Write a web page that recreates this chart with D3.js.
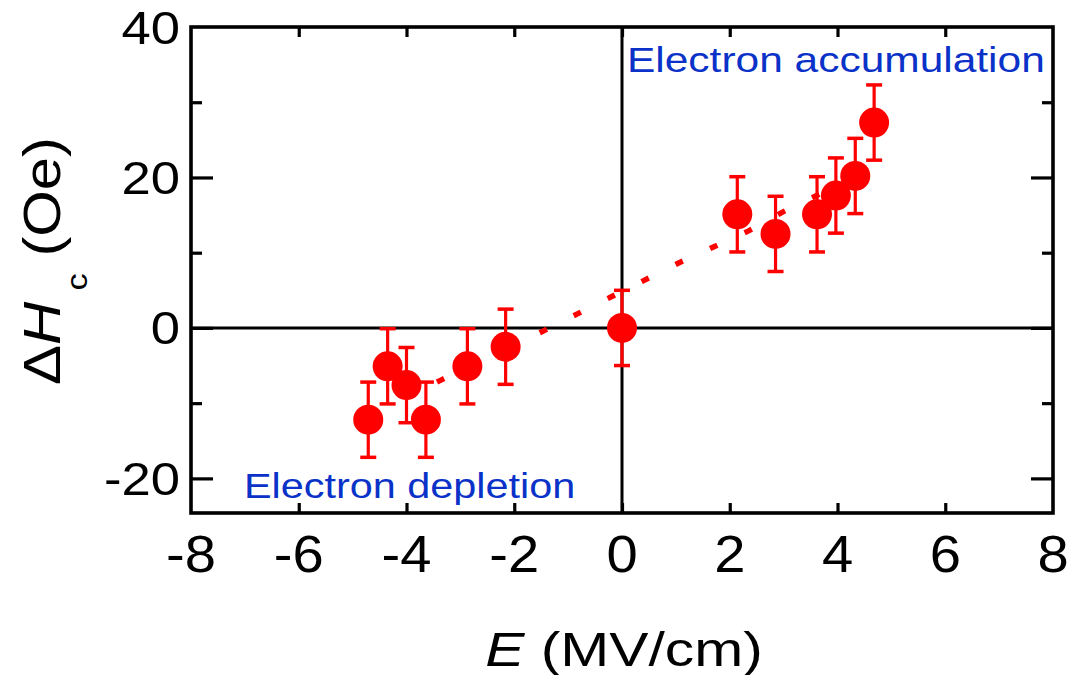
<!DOCTYPE html>
<html>
<head>
<meta charset="utf-8">
<script src="https://cdn.jsdelivr.net/npm/d3@7/dist/d3.min.js"></script>
<style>
  html, body { margin: 0; padding: 0; background: #fff; }
  svg { display: block; }
  text { font-family: "Liberation Sans", Arial, Helvetica, sans-serif; }
</style>
</head>
<body>
<svg id="chart" width="1073" height="675"></svg>
<script>
// ---- data ----
const fieldE = [-4.71, -4.35, -4.00, -3.64, -2.87, -2.16, 0.00, 2.14, 2.85, 3.62, 3.97, 4.33, 4.68];
const deltaHc = [-12.2, -5.1, -7.6, -12.2, -5.1, -2.5, 0.0, 15.1, 12.5, 15.1, 17.6, 20.2, 27.3];
const errHc = [5, 5, 5, 5, 5, 5, 5, 5, 5, 5, 5, 5, 5];
const fitE = [-4.0, -3.38, -1.46, -0.18, 1.07, 2.35, 2.98, 3.7];
const fitH = [-9.2, -7.0, -0.4, 4.2, 8.7, 12.9, 15.4, 17.9];
const xTicks = [-8, -6, -4, -2, 0, 2, 4, 6, 8];
const yMajorTicks = [-20, 0, 20, 40];
const yMinorTicks = [-10, 10, 30];
const annotations = ["Electron accumulation", "Electron depletion"];

// ---- layout ----
const svg = d3.select("#chart");
const L = 191, R = 1053, T = 27, B = 513;
const x = d3.scaleLinear().domain([-8, 8]).range([L, R]);
const y = d3.scaleLinear().domain([-24.6, 40]).range([B, T]);
const red = "#ff0000", blue = "#0a32c8";

function stretchedText(g, px, py, sx, rot) {
  return g.append("g")
    .attr("transform", `translate(${px},${py})` + (rot ? ` rotate(${rot})` : "") + ` scale(${sx},1)`)
    .append("text");
}

// zero lines
svg.append("line").attr("x1", L).attr("x2", R).attr("y1", y(0)).attr("y2", y(0))
  .attr("stroke", "#000").attr("stroke-width", 3);
svg.append("line").attr("x1", x(0)).attr("x2", x(0)).attr("y1", T).attr("y2", B)
  .attr("stroke", "#000").attr("stroke-width", 3);

// axes (ticks inside) using d3 axis generators
const axStyle = g => {
  g.select(".domain").remove();
  g.selectAll(".tick line").attr("stroke", "#000").attr("stroke-width", 3.2);
  g.selectAll(".tick text").remove();
};
svg.append("g").attr("transform", `translate(0,${B})`)
  .call(d3.axisBottom(x).tickValues(xTicks.slice(1, -1)).tickSize(-10)).call(axStyle);
svg.append("g").attr("transform", `translate(0,${T})`)
  .call(d3.axisTop(x).tickValues(xTicks.slice(1, -1)).tickSize(-10)).call(axStyle);
svg.append("g").attr("transform", `translate(${L},0)`)
  .call(d3.axisLeft(y).tickValues(yMajorTicks.slice(0, -1)).tickSize(-22)).call(axStyle);
svg.append("g").attr("transform", `translate(${L},0)`)
  .call(d3.axisLeft(y).tickValues(yMinorTicks).tickSize(-11)).call(axStyle);
svg.append("g").attr("transform", `translate(${R},0)`)
  .call(d3.axisRight(y).tickValues(yMajorTicks.slice(0, -1)).tickSize(-22)).call(axStyle);
svg.append("g").attr("transform", `translate(${R},0)`)
  .call(d3.axisRight(y).tickValues(yMinorTicks).tickSize(-11)).call(axStyle);

// frame
svg.append("rect").attr("x", L).attr("y", T).attr("width", R - L).attr("height", B - T)
  .attr("fill", "none").attr("stroke", "#000").attr("stroke-width", 3.6);

// tick labels
xTicks.forEach(v => {
  stretchedText(svg, x(v), 572, 1.08).attr("text-anchor", "middle")
    .attr("font-size", 52).attr("fill", "#000").text(d3.format("d")(v).replace("−", "-"));
});
yMajorTicks.forEach(v => {
  stretchedText(svg, 180, y(v) + 16.5, 1.12).attr("text-anchor", "end")
    .attr("font-size", 47).attr("fill", "#000").text(d3.format("d")(v).replace("−", "-"));
});

// axis titles
const xt = stretchedText(svg, 624, 666, 1.2).attr("text-anchor", "middle")
  .attr("font-size", 49).attr("fill", "#000");
xt.append("tspan").attr("font-style", "italic").text("E");
xt.append("tspan").text(" (MV/cm)");

const yt = stretchedText(svg, 60, 261, 1.15, -90).attr("text-anchor", "middle")
  .attr("font-size", 52).attr("fill", "#000");
yt.append("tspan").text("Δ");
yt.append("tspan").attr("font-style", "italic").text("H");
yt.append("tspan").attr("font-size", 30).attr("dx", 10).attr("dy", 27).text("c");
yt.append("tspan").attr("dy", -27).text(" (Oe)");

// annotations
stretchedText(svg, 627, 72, 1.18).attr("font-size", 36).attr("fill", blue).text(annotations[0]);
stretchedText(svg, 244, 498, 1.15).attr("font-size", 36).attr("fill", blue).text(annotations[1]);

// dotted fit line
const fitData = fitE.map((e, i) => [e, fitH[i]]);
svg.append("path").datum(fitData)
  .attr("d", d3.line().x(d => x(d[0])).y(d => y(d[1])))
  .attr("fill", "none").attr("stroke", red).attr("stroke-width", 5.5)
  .attr("stroke-dasharray", "8,30").attr("stroke-dashoffset", 4);

// error bars
const pts = fieldE.map((e, i) => ({ e, h: deltaHc[i], err: errHc[i] }));
const eb = svg.append("g").attr("stroke", red);
eb.selectAll("line.v").data(pts).join("line").attr("class", "v")
  .attr("x1", d => x(d.e)).attr("x2", d => x(d.e))
  .attr("y1", d => y(d.h - d.err)).attr("y2", d => y(d.h + d.err))
  .attr("stroke-width", 3.2);
eb.selectAll("line.top").data(pts).join("line").attr("class", "top")
  .attr("x1", d => x(d.e) - 8).attr("x2", d => x(d.e) + 8)
  .attr("y1", d => y(d.h + d.err)).attr("y2", d => y(d.h + d.err))
  .attr("stroke-width", 3.5);
eb.selectAll("line.bot").data(pts).join("line").attr("class", "bot")
  .attr("x1", d => x(d.e) - 8).attr("x2", d => x(d.e) + 8)
  .attr("y1", d => y(d.h - d.err)).attr("y2", d => y(d.h - d.err))
  .attr("stroke-width", 3.5);

// markers
svg.append("g").selectAll("circle").data(pts).join("circle")
  .attr("cx", d => x(d.e)).attr("cy", d => y(d.h)).attr("r", 15).attr("fill", red);
</script>
</body>
</html>
